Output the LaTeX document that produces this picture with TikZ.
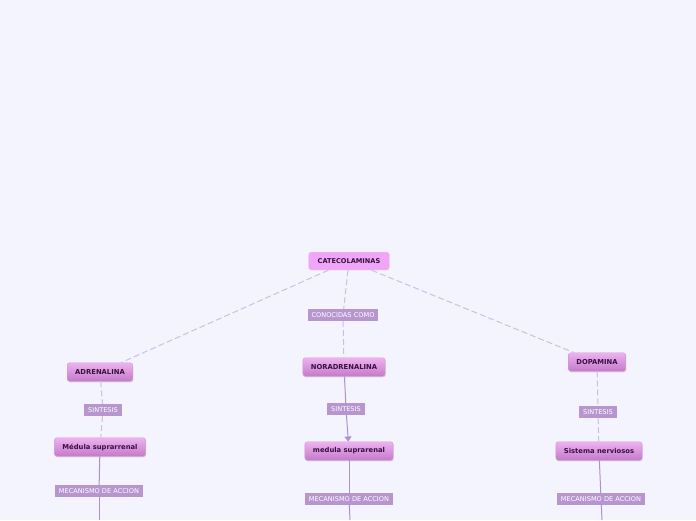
\documentclass[tikz,border=0pt]{standalone}
\usepackage{fontspec}
\setmainfont{DejaVu Sans}
\usetikzlibrary{arrows.meta,shadows}

\definecolor{bgcol}{HTML}{F4F4FE}
\definecolor{rootfill}{HTML}{F0A6F6}
\definecolor{topicA}{HTML}{EDB2EF}
\definecolor{topicB}{HTML}{C47ACB}
\definecolor{topictext}{HTML}{3A1040}
\definecolor{labfill}{HTML}{B796CF}
\definecolor{dashcol}{HTML}{CAC0E4}
\definecolor{linecol}{HTML}{B08ED0}

\begin{document}
\begin{tikzpicture}[
                x=1pt, y=-1pt,
                font=\fontsize{6.6}{7}\selectfont,
                >={Triangle[length=5pt,width=7pt,fill=linecol]},
                rootbox/.style={rectangle, rounded corners=2.5pt, draw=rootfill!60!white,
                        fill=rootfill, text=topictext, inner xsep=9pt, minimum height=18pt,
                        font=\fontsize{6.6}{7}\selectfont\bfseries},
                topicbox/.style={rectangle, rounded corners=2.5pt, draw=topicB!80!white,
                        top color=topicA, bottom color=topicB, text=topictext,
                        inner xsep=8pt, minimum height=18.5pt,
                        drop shadow={shadow xshift=0.6pt, shadow yshift=-1.2pt, opacity=0.25},
                        font=\fontsize{6.8}{7}\selectfont\bfseries},
                labbox/.style={rectangle, fill=labfill, text=white, inner xsep=4pt,
                        minimum height=12pt},
                dashln/.style={draw=dashcol, line width=1pt, dash pattern=on 6pt off 3pt},
                solidln/.style={draw=linecol, line width=1pt},
            ]
            \useasboundingbox[fill=bgcol] (0,0) rectangle (696,520);

            % root
            \node[rootbox] (cat) at (349,261) {CATECOLAMINAS};
            \node[labbox] (conoc) at (343,315) {CONOCIDAS COMO};

            % adrenalina
            \node[topicbox] (adr) at (100,372) {ADRENALINA};
            \node[labbox] (sinA) at (103,410) {SINTESIS};
            \node[topicbox] (medA) at (100,447) {Médula suprarrenal};
            \node[labbox] (mecA) at (99,491) {MECANISMO DE ACCION};
            \coordinate (endA) at (99,520);

            % noradrenalina
            \node[topicbox] (nor) at (344,367) {NORADRENALINA};
            \node[labbox] (sinN) at (346,409) {SINTESIS};
            \node[topicbox] (medN) at (349,451) {medula suprarenal};
            \node[labbox] (mecN) at (349,499) {MECANISMO DE ACCION};
            \coordinate (endN) at (350,520);

            % dopamina
            \node[topicbox] (dop) at (597,362) {DOPAMINA};
            \node[labbox] (sinD) at (598,412) {SINTESIS};
            \node[topicbox] (sisD) at (599,451) {Sistema nerviosos};
            \node[labbox] (mecD) at (601,499) {MECANISMO DE ACCION};
            \coordinate (endD) at (602,520);

            \draw[dashln] (cat) -- (adr);
            \draw[dashln] (cat) -- (dop);
            \draw[dashln] (cat) -- (conoc);
            \draw[dashln] (conoc) -- (nor);

            \draw[dashln] (adr) -- (sinA);
            \draw[dashln] (sinA) -- (medA);
            \draw[solidln] (medA) -- (mecA);
            \draw[solidln] (mecA) -- (endA);

            \draw[solidln] (nor) -- (sinN);
            \draw[solidln, ->] (sinN) -- (medN);
            \draw[solidln] (medN) -- (mecN);
            \draw[solidln] (mecN) -- (endN);

            \draw[dashln] (dop) -- (sinD);
            \draw[dashln] (sinD) -- (sisD);
            \draw[solidln] (sisD) -- (mecD);
            \draw[solidln] (mecD) -- (endD);

        \end{tikzpicture}
\end{document}
